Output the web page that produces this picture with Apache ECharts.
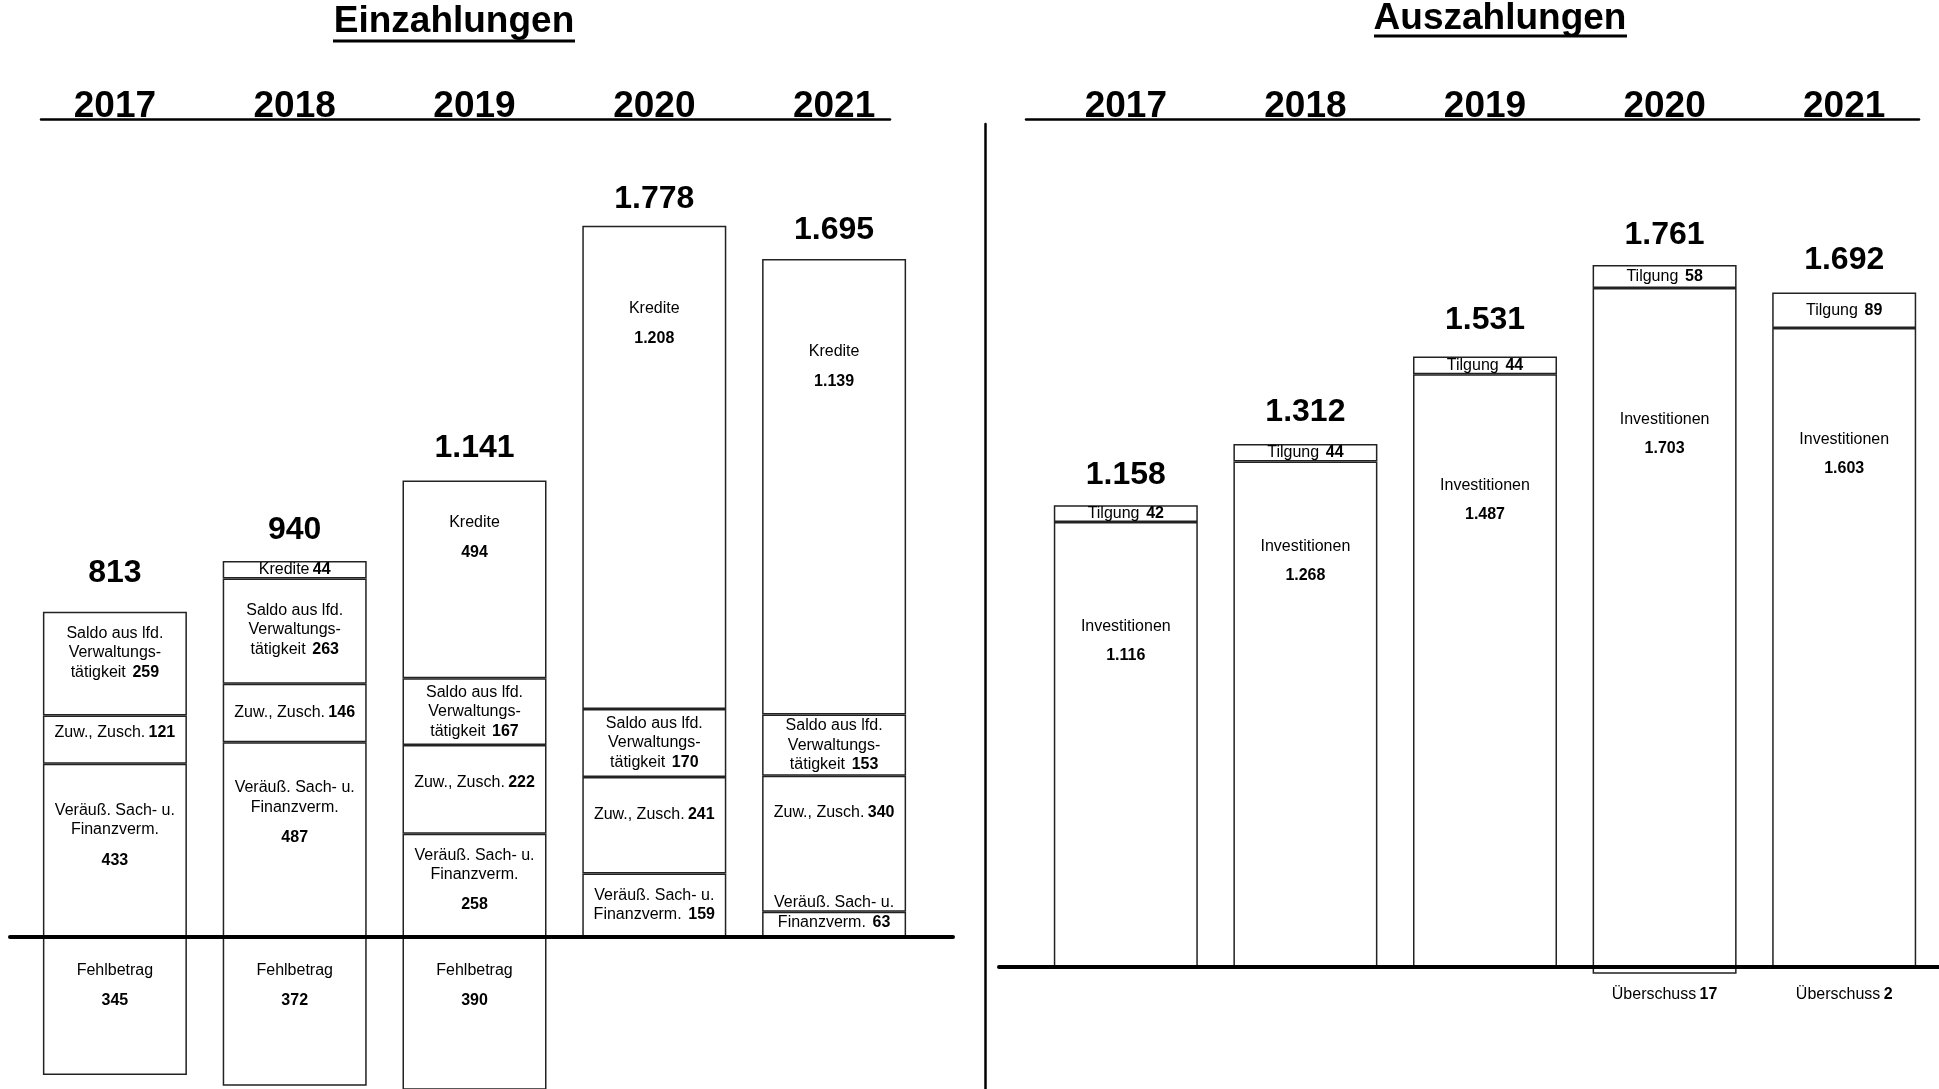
<!DOCTYPE html>
<html>
<head>
<meta charset="utf-8">
<title>Einzahlungen / Auszahlungen</title>
<script src="https://cdn.jsdelivr.net/npm/echarts@6/dist/echarts.min.js"></script>
<style>
  html, body { margin: 0; padding: 0; background: #fff; }
  #chartmain { width: 1939px; height: 1089px; }
</style>
</head>
<body>
<div id="chartmain"></div>
<script>
// Jahre
var years = ['2017', '2018', '2019', '2020', '2021'];

// Einzahlungen (unten nach oben gestapelt)
var veraeusserung = [433, 487, 258, 159, 63];
var zuweisungen = [121, 146, 222, 241, 340];
var saldoLfd = [259, 263, 167, 170, 153];
var kredite = [null, 44, 494, 1208, 1139];
var fehlbetrag = [345, 372, 390, null, null];
var einTotal = [813, 940, 1141, 1778, 1695];

// Auszahlungen
var investitionen = [1116, 1268, 1487, 1703, 1603];
var tilgung = [42, 44, 44, 58, 89];
var ueberschuss = [null, null, null, 17, 2];
var ausTotal = [1158, 1312, 1531, 1761, 1692];

var SANS = '"Liberation Sans", Arial, sans-serif';

// wo die Beschriftung im Segment sitzt: Zahl = Abstand von oben, 'c' = mittig, {dy} = mittig verschoben
var posVer = [37, 36, 'c', 'c', { dy: -12 }];
var posZuw = [7, 'c', 28, 28, 27];
var posSaldo = [12, 22, 'c', 'c', 'c'];
var posKred = ['c', 'c', 32, 73, 83];
var posFehl = [24, 24, 24, 24, 24];
var posInv = [95, 75, 101, 122, 102];
var posTil = ['c', 'c', 'c', 'c', 'c'];
var posUeb = [12, 12, 12, 11, 16];
var totOffEin = [39, 31, 32, 27, 29];
var totOffAus = [30, 32, 36, 30, 32];

function fmt(v) {
  return String(v).replace(/\B(?=(\d{3})+(?!\d))/g, '.');
}

function place(p) {
  if (p === 'c') return { position: 'inside' };
  if (typeof p === 'object') return { position: 'inside', offset: [0, p.dy] };
  return { position: 'insideTop', distance: p };
}

var richLeft = {
  t: { fontFamily: SANS, fontSize: 16, lineHeight: 19.5, color: '#000' },
  v: { fontFamily: SANS, fontSize: 16, lineHeight: 19.5, fontWeight: 'bold', color: '#000' },
  n: { fontFamily: SANS, fontSize: 16, lineHeight: 41, fontWeight: 'bold', color: '#000' }
};
var richRight = {
  t: { fontFamily: SANS, fontSize: 16, lineHeight: 20, color: '#000' },
  v: { fontFamily: SANS, fontSize: 16, lineHeight: 20, fontWeight: 'bold', color: '#000' },
  n: { fontFamily: SANS, fontSize: 16, lineHeight: 38, fontWeight: 'bold', color: '#000' }
};

function barSeries(name, values, side, text, pos, negative) {
  return {
    name: name,
    type: 'bar',
    stack: side === 0 ? 'ein' : 'aus',
    xAxisIndex: side === 0 ? 0 : 4,
    yAxisIndex: side === 0 ? 0 : 3,
    barWidth: 144,
    silent: true,
    itemStyle: { color: '#fff', borderColor: '#222', borderWidth: 1.5 },
    label: { show: true, rich: side === 0 ? richLeft : richRight },
    data: values.map(function (v, i) {
      if (v == null) return null;
      var lab = { show: true, formatter: text(v) };
      var pl = negative && side === 1 ? { position: 'bottom', distance: pos[i] } : place(pos[i]);
      for (var k in pl) lab[k] = pl[k];
      return { value: negative ? -v : v, label: lab };
    })
  };
}

function totalSeries(values, side, offs) {
  return {
    type: 'scatter',
    xAxisIndex: side === 0 ? 0 : 4,
    yAxisIndex: side === 0 ? 0 : 3,
    symbolSize: 0,
    silent: true,
    z: 5,
    itemStyle: { opacity: 1 },
    label: {
      show: true, position: 'inside',
      fontFamily: SANS, fontSize: 32, fontWeight: 'bold', color: '#000', opacity: 1,
      formatter: function (p) { return fmt(p.value[1]); }
    },
    data: values.map(function (v, i) {
      return { value: [years[i], v], label: { offset: [0, -offs[i]] } };
    })
  };
}

function hiddenValue(grid, min, max) {
  return { type: 'value', gridIndex: grid, min: min, max: max, show: false };
}
function lineAxis(grid, pos, width, z) {
  return {
    type: 'value', gridIndex: grid, min: 0, max: 1, position: pos, z: z || 0,
    axisLine: { show: true, onZero: pos !== 'top', lineStyle: { color: '#000', width: width } },
    axisTick: { show: false }, axisLabel: { show: false }, splitLine: { show: false }
  };
}
function yearAxis(grid) {
  return {
    type: 'category', gridIndex: grid, position: 'top', data: years,
    axisLine: { show: false }, axisTick: { show: false }, splitLine: { show: false },
    axisLabel: { fontFamily: SANS, fontSize: 37, fontWeight: 'bold', color: '#000', margin: -6 }
  };
}

var option = {
  animation: false,
  backgroundColor: '#fff',
  title: [
    { text: 'Einzahlungen', left: 454, top: 3, padding: 0, textAlign: 'center',
      textStyle: { fontFamily: SANS, fontSize: 37, fontWeight: 'bold', color: '#000' } },
    { text: 'Auszahlungen', left: 1500, top: 0, padding: 0, textAlign: 'center',
      textStyle: { fontFamily: SANS, fontSize: 37, fontWeight: 'bold', color: '#000' } }
  ],
  // Unterstreichung der Überschriften
  graphic: [
    { type: 'line', shape: { x1: 333, y1: 41, x2: 575, y2: 41 }, style: { stroke: '#000', lineWidth: 3 } },
    { type: 'line', shape: { x1: 1374, y1: 36, x2: 1627, y2: 36 }, style: { stroke: '#000', lineWidth: 3 } }
  ],
  grid: [
    { left: 25, width: 899, top: 119, bottom: 0 },     // 0 Einzahlungen Balken
    { left: 41, width: 849, top: 119, height: 10 },    // 1 Linie unter Jahren links
    { left: 10, width: 943, top: 119, bottom: 0 },     // 2 Nulllinie links
    { left: 1036, width: 898, top: 119, bottom: 0 },   // 3 Auszahlungen Balken
    { left: 1026, width: 893, top: 119, height: 10 },  // 4 Linie unter Jahren rechts
    { left: 999, width: 940, top: 119, bottom: 0 },    // 5 Nulllinie rechts
    { left: 985, width: 1, top: 124, bottom: 0 }       // 6 Trennlinie
  ],
  xAxis: [
    { type: 'category', gridIndex: 0, data: years, show: false },
    yearAxis(0),
    lineAxis(1, 'top', 2.5),
    lineAxis(2, 'bottom', 4, 5),
    { type: 'category', gridIndex: 3, data: years, show: false },
    yearAxis(3),
    lineAxis(4, 'top', 2.5),
    lineAxis(5, 'bottom', 4, 5),
    { type: 'value', gridIndex: 6, min: 0, max: 1, show: false }
  ],
  yAxis: [
    hiddenValue(0, -380, 2045),
    hiddenValue(1, 0, 1),
    hiddenValue(2, -380, 2045),
    hiddenValue(3, -306, 2127),
    hiddenValue(4, 0, 1),
    hiddenValue(5, -306, 2127),
    {
      type: 'value', gridIndex: 6, min: 0, max: 1,
      axisLine: { show: true, lineStyle: { color: '#000', width: 2.5 } },
      axisTick: { show: false }, axisLabel: { show: false }, splitLine: { show: false }
    }
  ],
  series: [
    barSeries('Veräuß. Sach- u. Finanzverm.', veraeusserung, 0, function (v) {
      return v < 200
        ? '{t|Veräuß. Sach- u.}\n{t|Finanzverm.}  {v|' + v + '}'
        : '{t|Veräuß. Sach- u.}\n{t|Finanzverm.}\n{n|' + v + '}';
    }, posVer),
    barSeries('Zuw., Zusch.', zuweisungen, 0, function (v) {
      return '{t|Zuw., Zusch.} {v|' + v + '}';
    }, posZuw),
    barSeries('Saldo aus lfd. Verwaltungstätigkeit', saldoLfd, 0, function (v) {
      return '{t|Saldo aus lfd.}\n{t|Verwaltungs-}\n{t|tätigkeit}  {v|' + v + '}';
    }, posSaldo),
    barSeries('Kredite', kredite, 0, function (v) {
      return v < 100 ? '{t|Kredite} {v|' + v + '}' : '{t|Kredite}\n{n|' + fmt(v) + '}';
    }, posKred),
    barSeries('Fehlbetrag', fehlbetrag, 0, function (v) {
      return '{t|Fehlbetrag}\n{n|' + v + '}';
    }, posFehl, true),
    totalSeries(einTotal, 0, totOffEin),

    barSeries('Investitionen', investitionen, 1, function (v) {
      return '{t|Investitionen}\n{n|' + fmt(v) + '}';
    }, posInv),
    barSeries('Tilgung', tilgung, 1, function (v) {
      return '{t|Tilgung}  {v|' + v + '}';
    }, posTil),
    barSeries('Überschuss', ueberschuss, 1, function (v) {
      return '{t|Überschuss} {v|' + v + '}';
    }, posUeb, true),
    totalSeries(ausTotal, 1, totOffAus)
  ]
};

var myChart = echarts.init(document.getElementById('chartmain'));
myChart.setOption(option);
</script>
</body>
</html>
